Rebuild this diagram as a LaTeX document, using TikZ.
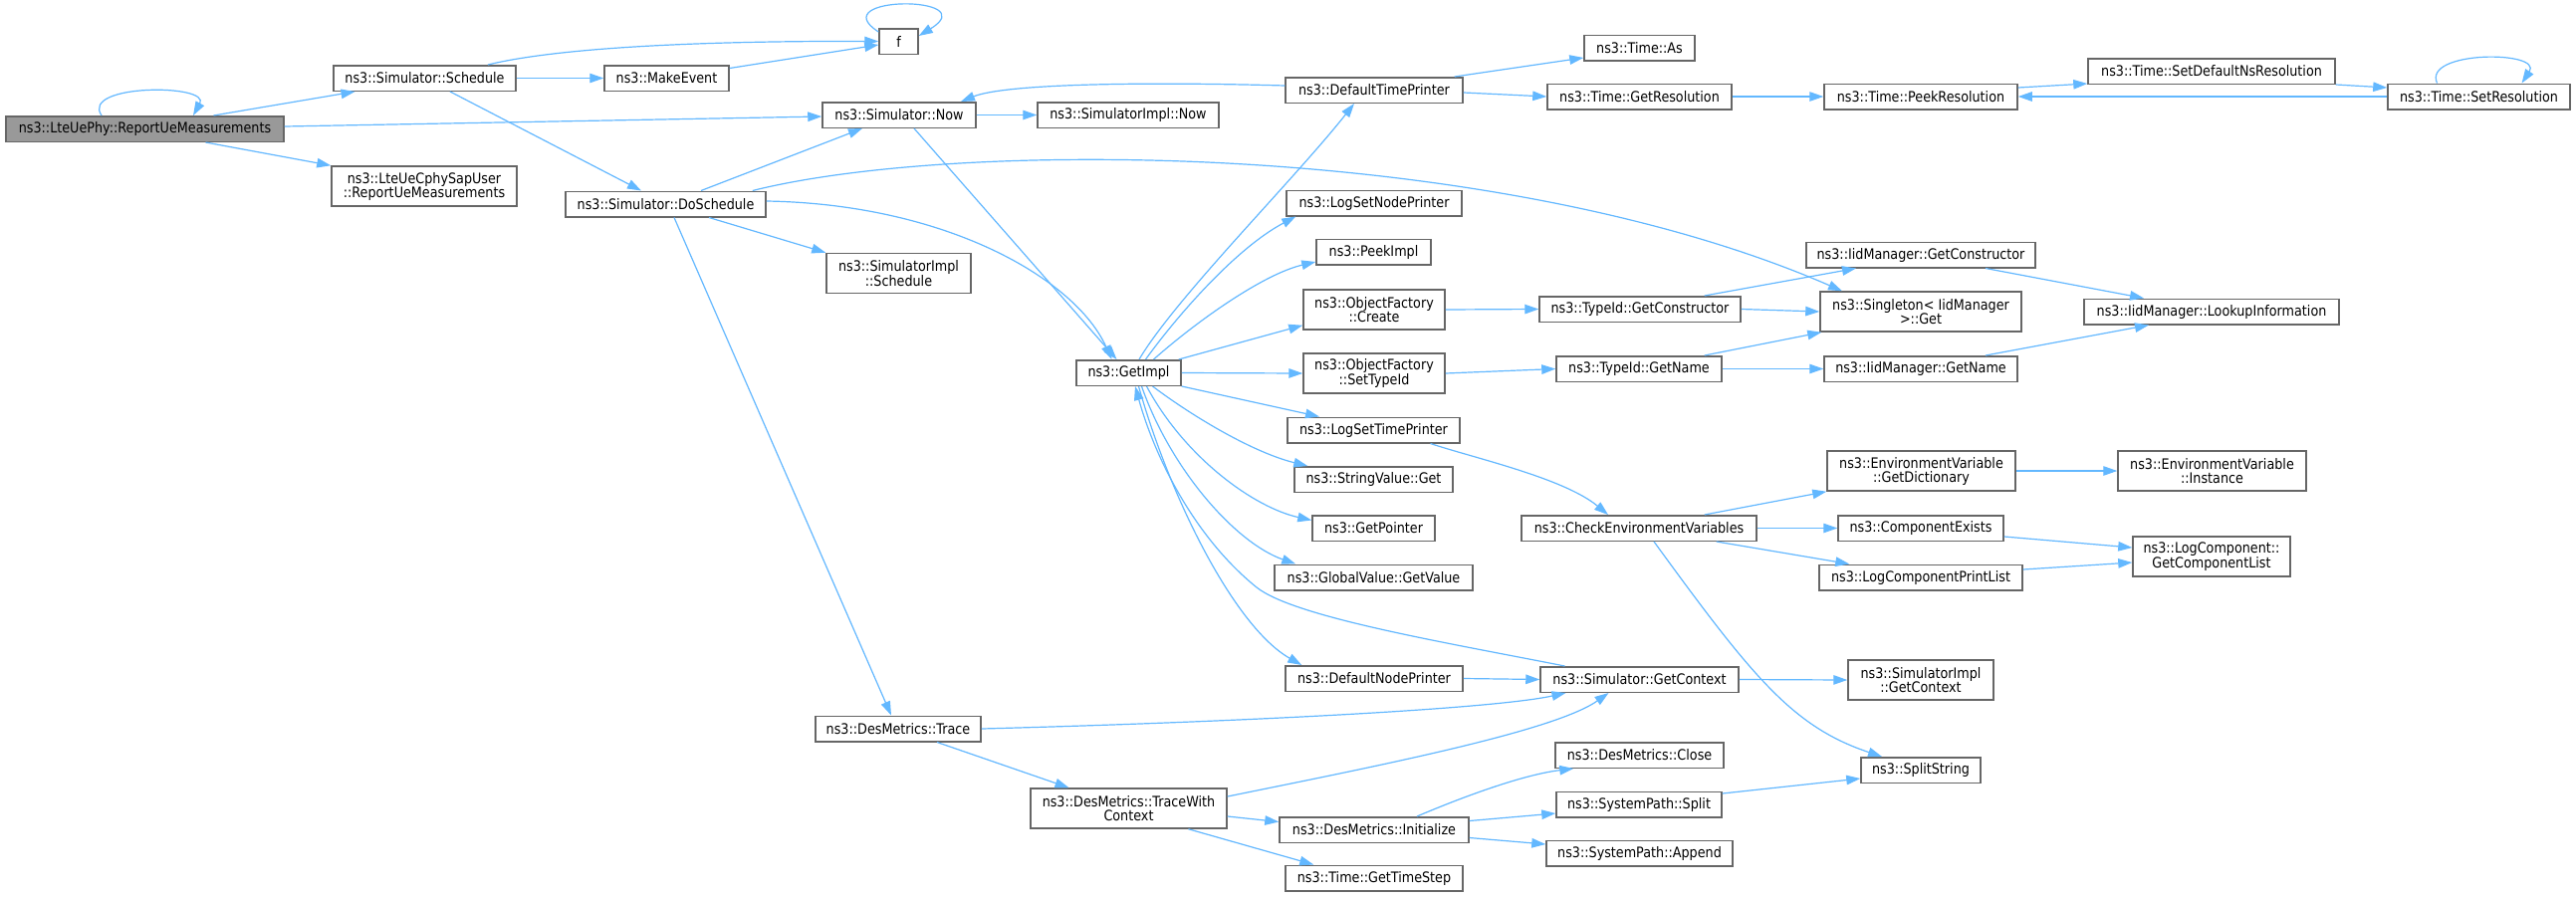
\documentclass[tikz,border=0pt]{standalone}
\usepackage{fontspec}
\setmainfont{DejaVu Sans}[FakeStretch=0.88]
\usetikzlibrary{arrows.meta,calc}
\definecolor{edgeblue}{HTML}{63B8FF}
\definecolor{boxgray}{HTML}{666666}
\definecolor{rootgray}{HTML}{999999}
\newcommand\gf{\fontsize{14.5}{14}\selectfont}
\begin{document}
\begin{tikzpicture}[x=1pt,y=-1pt,
  box/.style={draw=boxgray, fill=white, line width=1.5pt, inner sep=0pt, minimum height=25.5pt, align=center, font=\gf},
  tall/.style={minimum height=40pt},
  root/.style={fill=rootgray},
  edge/.style={draw=edgeblue, line width=1.2pt, -{Triangle[length=14pt,width=9.5pt]}}]
\fill[white] (0,0) rectangle (2587,900);
\useasboundingbox (0,0) rectangle (2587,900);
% nodes
\node[box,root,minimum width=279pt] (r) at (145.5,129.5) {ns3::LteUePhy::ReportUeMeasurements};
\node[box,minimum width=183pt] (sched) at (426.5,78.5) {ns3::Simulator::Schedule};
\node[box,tall,minimum width=186pt] (sap) at (426,187) {ns3::LteUeCphySapUser\\::ReportUeMeasurements};
\node[box,minimum width=125pt] (mk) at (669.5,78.5) {ns3::MakeEvent};
\node[box,minimum width=201pt] (dos) at (668.5,205) {ns3::Simulator::DoSchedule};
\node[box,minimum width=39pt] (f) at (902.5,41.5) {f};
\node[box,minimum width=154pt] (now) at (903,115.5) {ns3::Simulator::Now};
\node[box,tall,minimum width=145pt] (sis) at (902.5,274.5) {ns3::SimulatorImpl\\::Schedule};
\node[box,minimum width=166pt] (tr) at (902,732) {ns3::DesMetrics::Trace};
\node[box,minimum width=182pt] (sin) at (1133,115.5) {ns3::SimulatorImpl::Now};
\node[box,minimum width=105pt] (gi) at (1133.5,374.5) {ns3::GetImpl};
\node[box,tall,minimum width=197pt] (twc) at (1133.5,812) {ns3::DesMetrics::TraceWith\\Context};
\node[box,minimum width=178pt] (dtp) at (1380,90.5) {ns3::DefaultTimePrinter};
\node[box,minimum width=176pt] (lsnp) at (1380,204) {ns3::LogSetNodePrinter};
\node[box,minimum width=115pt] (pk) at (1379.5,253) {ns3::PeekImpl};
\node[box,tall,minimum width=142pt] (ofc) at (1380,311) {ns3::ObjectFactory\\::Create};
\node[box,tall,minimum width=142pt] (ofs) at (1380,375) {ns3::ObjectFactory\\::SetTypeId};
\node[box,minimum width=173pt] (lstp) at (1379.5,432) {ns3::LogSetTimePrinter};
\node[box,minimum width=159pt] (svg) at (1379.5,481.5) {ns3::StringValue::Get};
\node[box,minimum width=123pt] (gp) at (1379.5,530.5) {ns3::GetPointer};
\node[box,minimum width=199pt] (gv) at (1379.5,580) {ns3::GlobalValue::GetValue};
\node[box,minimum width=178pt] (dnp) at (1380,681.5) {ns3::DefaultNodePrinter};
\node[box,minimum width=190pt] (ini) at (1380,833.5) {ns3::DesMetrics::Initialize};
\node[box,minimum width=178pt] (gts) at (1380,882) {ns3::Time::GetTimeStep};
\node[box,minimum width=111pt] (as) at (1646.5,48) {ns3::Time::As};
\node[box,minimum width=185pt] (gr) at (1646.5,97) {ns3::Time::GetResolution};
\node[box,minimum width=202pt] (tgc) at (1647,310.5) {ns3::TypeId::GetConstructor};
\node[box,minimum width=166pt] (tgn) at (1646,370.5) {ns3::TypeId::GetName};
\node[box,minimum width=236pt] (cev) at (1646,530.5) {ns3::CheckEnvironmentVariables};
\node[box,minimum width=199pt] (gc) at (1646.5,682.5) {ns3::Simulator::GetContext};
\node[box,minimum width=169pt] (dmc) at (1646.5,758.5) {ns3::DesMetrics::Close};
\node[box,minimum width=166pt] (sps) at (1646,808) {ns3::SystemPath::Split};
\node[box,minimum width=187pt] (spa) at (1646.5,857) {ns3::SystemPath::Append};
\node[box,minimum width=194pt] (pr) at (1929,97) {ns3::Time::PeekResolution};
\node[box,minimum width=230pt] (igc) at (1929,256) {ns3::IidManager::GetConstructor};
\node[box,tall,minimum width=202pt] (sg) at (1929,313) {ns3::Singleton< IidManager\\>::Get};
\node[box,minimum width=194pt] (ign) at (1929,370.5) {ns3::IidManager::GetName};
\node[box,tall,minimum width=189pt] (gd) at (1929.5,473) {ns3::EnvironmentVariable\\::GetDictionary};
\node[box,minimum width=166pt] (ce) at (1929,530.5) {ns3::ComponentExists};
\node[box,minimum width=204pt] (lcpl) at (1929,580) {ns3::LogComponentPrintList};
\node[box,tall,minimum width=146pt] (sigc) at (1929,683) {ns3::SimulatorImpl\\::GetContext};
\node[box,minimum width=120pt] (ss) at (1929,773.5) {ns3::SplitString};
\node[box,minimum width=248pt] (sdn) at (2221,71.5) {ns3::Time::SetDefaultNsResolution};
\node[box,minimum width=256pt] (li) at (2221,313) {ns3::IidManager::LookupInformation};
\node[box,tall,minimum width=189pt] (inst) at (2221.5,473) {ns3::EnvironmentVariable\\::Instance};
\node[box,tall,minimum width=158pt] (gcl) at (2221,559) {ns3::LogComponent::\\GetComponentList};
\node[box,minimum width=183pt] (sr) at (2489.5,97) {ns3::Time::SetResolution};
% edges
\draw[edge] ($(r.north)+(-43.5,0)$) .. controls +(-22,-32) and +(18,-32) .. ($(r.north)+(48.5,0)$);
\draw[edge] ($(r.north)+(69,0)$) -- ($(sched.south)+(-70,0)$);
\draw[edge] ($(r.east)+(0,-2.5)$) -- ($(now.west)+(0,1.5)$);
\draw[edge] ($(r.south)+(61,0)$) -- (sap.north west);
\draw[edge] ($(sched.north)+(63.5,0)$) .. controls (560,48) and (700,41) .. (f.west);
\draw[edge] (sched.east) -- (mk.west);
\draw[edge] ($(sched.south)+(25.5,0)$) -- ($(dos.north)+(-24.5,0)$);
\draw[edge] ($(mk.east)+(0,-10)$) -- ($(f.west)+(0,3.5)$);
\draw[edge] ($(f.north west)+(0,4)$) .. controls (825,-5) and (990,-5) .. ($(f.east)+(0,-5.5)$);
\draw[edge] ($(dos.north)+(35.5,0)$) -- ($(now.south)+(-37,0)$);
\draw[edge] ($(dos.north east)+(-14,0)$) .. controls (960,140) and (1500,140) .. ($(sg.north)+(-79,0)$);
\draw[edge] ($(dos.east)+(0,-3)$) .. controls (950,205) and (1080,280) .. ($(gi.north)+(-17,0)$);
\draw[edge] ($(dos.south)+(43.5,0)$) -- (sis.north west);
\draw[edge] ($(dos.south)+(8.5,0)$) -- ($(tr.north)+(-7,0)$);
\draw[edge] (now.east) -- (sin.west);
\draw[edge] ($(now.south)+(15,0)$) -- ($(gi.north)+(-12,0)$);
\draw[edge] ($(dtp.west)+(0,-4.5)$) .. controls (1150,82) and (1010,84) .. ($(now.north)+(62,0)$);
\draw[edge] ($(dtp.north east)+(-9,0)$) -- ($(as.west)+(0,10)$);
\draw[edge] ($(dtp.east)+(0,2.5)$) -- (gr.west);
\draw[edge] (gr.east) -- (pr.west);
\draw[edge] ($(pr.east)+(0,-9)$) -- ($(sdn.south west)+(0,-1)$);
\draw[edge] (sdn.south east) -- ($(sr.west)+(0,-9)$);
\draw[edge] (sr.west) -- (pr.east);
\draw[edge] ($(sr.north)+(-42,0)$) .. controls +(-15,-33) and +(22,-33) .. ($(sr.north)+(43,0)$);
\draw[edge] ($(gi.north)+(10.5,0)$) .. controls (1180,300) and (1300,180) .. ($(dtp.south)+(-20,0)$);
\draw[edge] ($(gi.north)+(17,0)$) .. controls (1180,320) and (1240,250) .. ($(lsnp.south west)+(10,0)$);
\draw[edge] ($(gi.north)+(25,0)$) .. controls (1205,320) and (1270,275) .. ($(pk.west)+(0,10)$);
\draw[edge] ($(gi.north east)+(-3,0)$) -- ($(ofc.south west)+(0,-5)$);
\draw[edge] (gi.east) -- (ofs.west);
\draw[edge] (gi.south east) -- ($(lstp.north)+(-54.5,0)$);
\draw[edge] ($(gi.south)+(24,0)$) .. controls (1200,420) and (1260,455) .. ($(svg.north west)+(14,0)$);
\draw[edge] ($(gi.south)+(18,0)$) .. controls (1190,460) and (1260,510) .. ($(gp.west)+(0,-8)$);
\draw[edge] ($(gi.south)+(13,0)$) .. controls (1175,470) and (1240,545) .. ($(gv.north west)+(22,0)$);
\draw[edge] ($(gi.south)+(10,0)$) .. controls (1175,500) and (1240,630) .. ($(dnp.north west)+(17,0)$);
\draw[edge] ($(gc.north)+(-75,0)$) .. controls (1450,645) and (1300,620) .. (1262,590) .. controls (1200,540) and (1160,460) .. ($(gi.south)+(6.5,0)$);
\draw[edge] (ofc.east) -- (tgc.west);
\draw[edge] (ofs.east) -- (tgn.west);
\draw[edge] (tgc.east) -- (sg.west);
\draw[edge] ($(tgc.north east)+(-37,0)$) -- ($(igc.south)+(-65,0)$);
\draw[edge] ($(igc.south)+(65,0)$) -- ($(li.north)+(-68,0)$);
\draw[edge] ($(tgn.north east)+(-18,0)$) -- ($(sg.south west)+(2,0)$);
\draw[edge] (tgn.east) -- (ign.west);
\draw[edge] ($(ign.north)+(65,0)$) -- ($(li.south)+(-63,0)$);
\draw[edge] ($(lstp.south)+(57,0)$) .. controls (1480,460) and (1570,480) .. ($(cev.north)+(-31,0)$);
\draw[edge] ($(cev.north east)+(-53,0)$) -- (gd.south west);
\draw[edge] (cev.east) -- (ce.west);
\draw[edge] ($(cev.south east)+(-41,0)$) -- ($(lcpl.north west)+(31,0)$);
\draw[edge] ($(cev.south)+(15,0)$) .. controls (1760,680) and (1800,730) .. ($(ss.north)+(-39,0)$);
\draw[edge] (gd.east) -- (inst.west);
\draw[edge] ($(ce.south east)+(0,-5)$) -- ($(gcl.west)+(0,-9)$);
\draw[edge] ($(lcpl.east)+(0,-8)$) -- ($(gcl.west)+(0,6)$);
\draw[edge] (dnp.east) -- (gc.west);
\draw[edge] (gc.east) -- (sigc.west);
\draw[edge] (tr.east) .. controls (1250,725) and (1500,712) .. ($(gc.south)+(-74,0)$);
\draw[edge] ($(tr.south)+(39,0)$) -- ($(twc.north)+(-60,0)$);
\draw[edge] ($(twc.east)+(0,-12)$) .. controls (1380,770) and (1560,735) .. ($(gc.south)+(-31,0)$);
\draw[edge] ($(twc.east)+(0,8)$) -- ($(ini.west)+(0,-8)$);
\draw[edge] ($(twc.south)+(60,0)$) -- ($(gts.north west)+(29,0)$);
\draw[edge] ($(ini.north)+(43,0)$) .. controls (1470,800) and (1530,778) .. ($(dmc.south west)+(19,0)$);
\draw[edge] ($(ini.east)+(0,-9)$) -- ($(sps.west)+(0,9)$);
\draw[edge] ($(ini.east)+(0,8)$) -- ($(spa.west)+(0,-9)$);
\draw[edge] ($(sps.east)+(0,-11)$) -- ($(ss.south west)+(0,-5)$);
\end{tikzpicture}
\end{document}
